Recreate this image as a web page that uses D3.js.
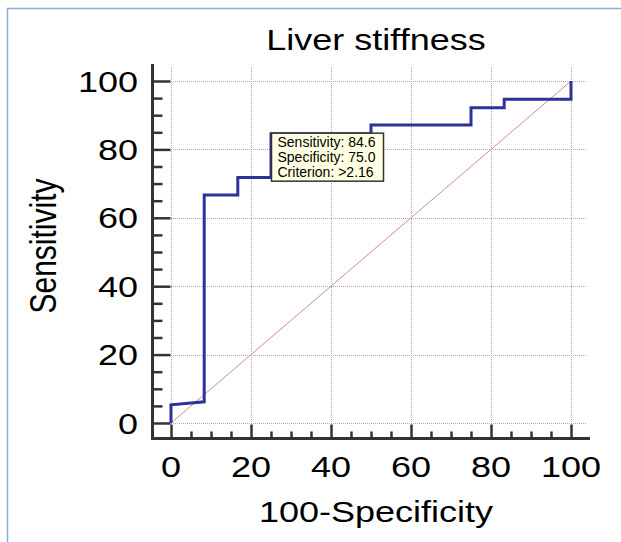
<!DOCTYPE html>
<html>
<head>
<meta charset="utf-8">
<script src="https://cdn.jsdelivr.net/npm/d3@7"></script>
<style>
  body { margin: 0; background: #fff; }
  svg { display: block; font-family: "Liberation Sans", Arial, sans-serif; }
</style>
</head>
<body>
<script>
'use strict'

// ROC curve points (100-Specificity, Sensitivity)
const fpr  = [0, 0,   8.3, 8.3,  16.7, 16.7, 25,   25,   50,   50,   75,   75,   83.3, 83.3, 100,  100];
const sens = [0, 5.3, 6.2, 66.7, 66.7, 71.8, 71.8, 84.6, 84.6, 87.1, 87.1, 92.2, 92.2, 94.7, 94.7, 100];

const majorTicks = [0, 20, 40, 60, 80, 100];
const minorTicks = [5, 10, 15, 25, 30, 35, 45, 50, 55, 65, 70, 75, 85, 90, 95];

const tipLines = ['Sensitivity: 84.6', 'Specificity: 75.0', 'Criterion: >2.16'];
const tipPoint = [25, 84.6];

const W = 621, H = 542;
const stretch = 1.2;

const svg = d3.select('body').append('svg')
  .attr('width', W).attr('height', H);

// outer frame (blue, only top and left visible)
svg.append('path')
  .attr('d', 'M7.5,' + H + 'V8.5H' + W)
  .attr('fill', 'none')
  .attr('stroke', '#8eaadb')
  .attr('stroke-width', 1.5);

const x = d3.scaleLinear().domain([0, 100]).range([171, 571]);
const y = d3.scaleLinear().domain([0, 100]).range([423, 81]);

const axX = 152.5, axY = 438.5;
const gridTop = y(100) - 14, gridRight = x(100) + 16;

// grid
const grid = svg.append('g')
  .attr('stroke', '#aaa')
  .attr('stroke-width', 1)
  .attr('stroke-dasharray', '1,1');

grid.selectAll('line.h')
  .data(majorTicks)
  .enter().append('line')
  .attr('x1', x(0)).attr('x2', gridRight)
  .attr('y1', d => Math.round(y(d)) + 0.5)
  .attr('y2', d => Math.round(y(d)) + 0.5);

grid.selectAll('line.v')
  .data(majorTicks)
  .enter().append('line')
  .attr('y1', gridTop).attr('y2', y(0))
  .attr('x1', d => Math.round(x(d)) + 0.5)
  .attr('x2', d => Math.round(x(d)) + 0.5);

// axes
const yMajor = svg.append('g')
  .attr('transform', 'translate(' + axX + ',0)')
  .call(d3.axisLeft(y).tickValues(majorTicks).tickSize(-18).tickFormat(''));
const yMinor = svg.append('g')
  .attr('transform', 'translate(' + axX + ',0)')
  .call(d3.axisLeft(y).tickValues(minorTicks).tickSize(-10).tickFormat(''));
const xMajor = svg.append('g')
  .attr('transform', 'translate(0,' + axY + ')')
  .call(d3.axisBottom(x).tickValues(majorTicks).tickSize(-14).tickFormat(''));
const xMinor = svg.append('g')
  .attr('transform', 'translate(0,' + axY + ')')
  .call(d3.axisBottom(x).tickValues(minorTicks).tickSize(-7).tickFormat(''));

[yMajor, yMinor, xMajor, xMinor].forEach(g => {
  g.select('.domain').remove();
  g.selectAll('.tick line').attr('stroke', '#333').attr('stroke-width', 2.5);
});

// axis lines
svg.append('line')
  .attr('x1', axX).attr('x2', axX)
  .attr('y1', gridTop - 3).attr('y2', axY + 1.5)
  .attr('stroke', '#333').attr('stroke-width', 3);
svg.append('line')
  .attr('x1', axX - 1.5).attr('x2', x(100) + 19)
  .attr('y1', axY).attr('y2', axY)
  .attr('stroke', '#333').attr('stroke-width', 3);

// tick labels
const label = (g, tx, ty, anchor, txt, size) => {
  g.append('text')
    .attr('transform', 'translate(' + tx + ',' + ty + ') scale(' + stretch + ',1)')
    .attr('text-anchor', anchor)
    .style('font-size', size + 'px')
    .attr('fill', '#000')
    .text(txt);
};

majorTicks.forEach(d => {
  label(svg, 138, y(d) + 10.5, 'end', d, 30);
  label(svg, x(d), 477, 'middle', d, 30);
});

// diagonal reference line
svg.append('line')
  .attr('x1', x(0)).attr('y1', y(0))
  .attr('x2', x(100)).attr('y2', y(100))
  .attr('stroke', '#d48a8a').attr('stroke-width', 1);

// ROC curve
const pts = fpr.map((v, i) => [v, sens[i]]);
svg.append('path')
  .datum(pts)
  .attr('fill', 'none')
  .attr('stroke', '#2e3197')
  .attr('stroke-width', 3)
  .attr('stroke-linejoin', 'miter')
  .attr('d', d3.line().x(d => x(d[0])).y(d => y(d[1])));

// tooltip box
const tx = x(tipPoint[0]) + 0.5, ty = y(tipPoint[1]) - 0.5;
const tip = svg.append('g').attr('transform', 'translate(' + tx + ',' + ty + ')');
tip.append('rect')
  .attr('width', 112).attr('height', 48)
  .attr('fill', '#ffffe1')
  .attr('stroke', '#333').attr('stroke-width', 1.5);
tip.selectAll('text')
  .data(tipLines)
  .enter().append('text')
  .attr('x', 6)
  .attr('y', (d, i) => 14 + i * 15)
  .style('font-size', '14px')
  .attr('fill', '#000')
  .text(d => d);

// titles
label(svg, 376, 50, 'middle', 'Liver stiffness', 30);
label(svg, 376, 522, 'middle', '100-Specificity', 30);
svg.append('text')
  .attr('transform', 'translate(56,246) rotate(-90) scale(1,' + stretch + ')')
  .attr('text-anchor', 'middle')
  .style('font-size', '30px')
  .attr('fill', '#000')
  .text('Sensitivity');
</script>
</body>
</html>
